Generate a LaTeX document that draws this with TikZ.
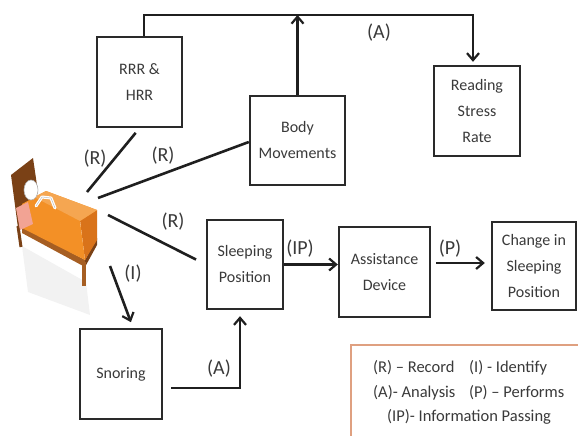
\documentclass[tikz,border=0pt]{standalone}
\usepackage{fontspec}
\setmainfont{Carlito}
\usetikzlibrary{arrows.meta}
\definecolor{boxline}{HTML}{2A2A2A}
\definecolor{txt}{HTML}{3A3A3A}
\definecolor{legendline}{HTML}{DFA080}
\definecolor{wood}{HTML}{7A4116}
\definecolor{woodlight}{HTML}{A65E22}
\definecolor{blanket}{HTML}{F39026}
\definecolor{blanketdark}{HTML}{D9731A}
\definecolor{pillow}{HTML}{F2A394}
\newcommand{\boxfont}{\fontsize{16}{26}\selectfont}
\newcommand{\lblfont}{\fontsize{20}{22}\selectfont}
\newcommand{\legfont}{\fontsize{16.5}{20}\selectfont}
\begin{document}
\begin{tikzpicture}[x=1pt,y=-1pt,
  box/.style={draw=boxline, line width=2.4pt, fill=white, align=center,
    font=\boxfont, text=txt, inner sep=0pt},
  link/.style={line width=2.6pt, draw=black!88},
  tip/.style={-{Straight Barb[length=7pt,width=12pt,line width=2.2pt]}},
  lbl/.style={font=\lblfont, text=txt, inner sep=0pt},
  leg/.style={font=\legfont, text=txt, inner sep=0pt, anchor=west}]
\useasboundingbox (0,0) rectangle (578,436);

% ---- the sleeper in bed ----
\fill[black!5] (22,246) -- (86,282) -- (90,315) -- (28,292) -- cycle;
\fill[wood] (11,175) -- (33,158) -- (38,192) -- (18,228) -- cycle;
\draw[wood, line width=3pt] (18,226) -- (21,247);
\fill[woodlight] (22,226) -- (85,260) -- (85,267) -- (22,233) -- cycle;
\fill[wood] (85,260) -- (97,238) -- (97,245) -- (85,267) -- cycle;
\draw[woodlight, line width=3.5pt] (84,262) -- (84,286);
\fill[blanketdark] (80,220) -- (97,210) -- (97,240) -- (85,260) -- cycle;
\fill[blanket] (22,204) -- (46,191) -- (97,210) -- (80,221) -- (85,260) -- (22,228) -- cycle;
\fill[blanket!80!white] (34,197) -- (46,191) -- (97,210) -- (80,221) -- cycle;
\fill[pillow] (16,208) -- (28,202) -- (33,224) -- (20,230) -- cycle;
\fill[white, draw=black!30, line width=0.6pt] (31,190) ellipse [x radius=7, y radius=10];
\draw[white, line width=3pt, line cap=round, line join=round]
  (36,206) -- (42,197) -- (51,198) -- (55,208);
\draw[black!25, line width=0.5pt] (36,206) -- (42,197) -- (51,198) -- (55,208);

% ---- blocks ----
\node[box, minimum width=85pt, minimum height=90pt] (rrr)    at (139.5,82)  {RRR \&\\HRR};
\node[box, minimum width=95pt, minimum height=89pt] (body)   at (297.5,140.5) {Body\\Movements};
\node[box, minimum width=86pt, minimum height=90pt] (read)   at (477,111)   {Reading\\Stress\\Rate};
\node[box, minimum width=76pt, minimum height=89pt] (sleep)  at (245,264.5) {Sleeping\\Position};
\node[box, minimum width=91pt, minimum height=90pt] (assist) at (384.5,272) {Assistance\\Device};
\node[box, minimum width=84pt, minimum height=88pt] (change) at (534,266)   {Change in\\Sleeping\\Position};
\node[box, minimum width=82pt, minimum height=90pt] (snore)  at (121,374)   {Snoring};

% ---- connectors ----
\coordinate (busL) at (144,15);
\coordinate (busR) at (473,15);
\coordinate (bedA) at (87,192);
\coordinate (bedB) at (98,198);
\coordinate (bedC) at (108,215);
\coordinate (bedD) at (110,266);

\draw[link, tip, line join=miter, shorten >=3pt]
  (rrr.north -| busL) -- (busL) -- (busR) -- (read.north -| busR);
\draw[link, tip] (body.north) -- (body.north |- busL);
\draw[link, shorten >=6pt] (bedA) -- (rrr.south);
\draw[link] (bedB) -- ([yshift=-1.5pt]body.west);
\draw[link, shorten >=11pt] (bedC) -- (sleep.west);
\draw[link, tip, shorten >=6pt] (bedD) -- ([xshift=12pt]snore.north);
\draw[link, tip, shorten <=8pt, shorten >=6pt, line join=miter]
  ([yshift=-14pt]snore.east) -| ([xshift=-5pt]sleep.south);
\draw[link, tip] (sleep.east) -- (sleep.east -| assist.west);
\draw[link, tip, shorten <=5pt, shorten >=6pt]
  ([yshift=9pt]assist.east) -- ([yshift=9pt]assist.east -| change.west);

% ---- connector labels ----
\node[lbl] (lA1) at (379,33)  {(A)};
\node[lbl] (lR1) at (95,159)  {(R)};
\node[lbl] (lR2) at (163,156) {(R)};
\node[lbl] (lR3) at (173,222) {(R)};
\node[lbl] (lI)  at (133,274) {(I)};
\node[lbl] (lA2) at (219,369) {(A)};
\node[lbl] (lIP) at (300,249) {(IP)};
\node[lbl] (lP)  at (450,249) {(P)};

% ---- legend ----
\draw[legendline, line width=2pt, fill=white] (351,345) rectangle (590,450);
\node[leg] (k1) at (373,368) {(R) -- Record};
\node[leg] (k2) at (469,368) {(I) - Identify};
\node[leg] (k3) at (373,393) {(A)- Analysis};
\node[leg] (k4) at (469,393) {(P) -- Performs};
\node[leg] (k5) at (387,417) {(IP)- Information Passing};
\end{tikzpicture}
\end{document}
